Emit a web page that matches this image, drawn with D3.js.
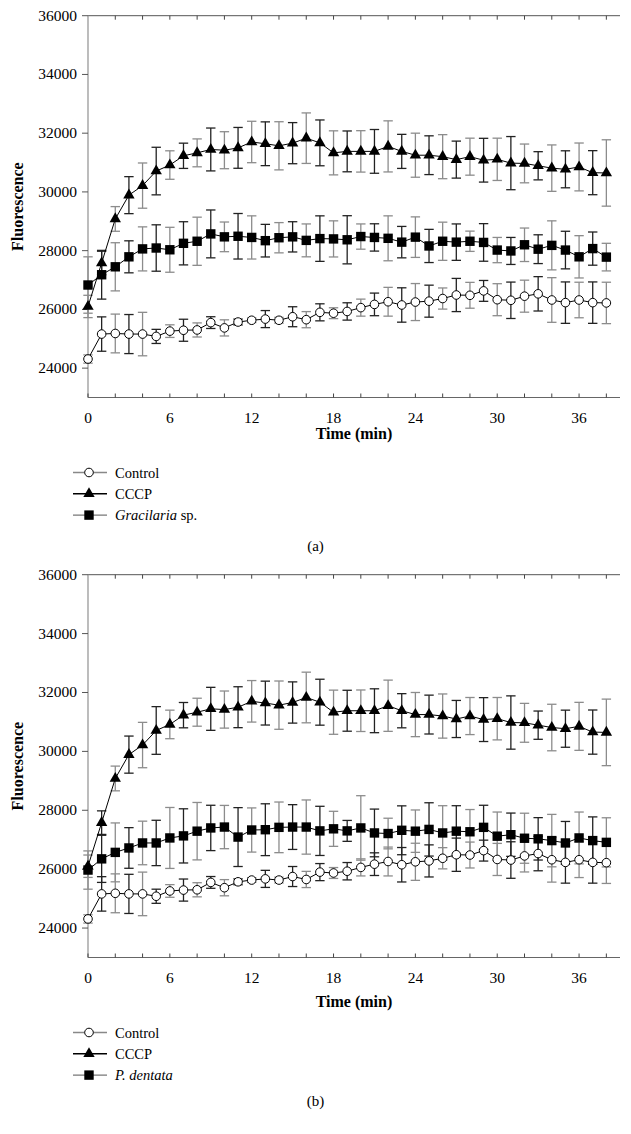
<!DOCTYPE html>
<html>
<head>
<meta charset="utf-8">
<script src="https://cdn.jsdelivr.net/npm/d3@7"></script>
<style>
  body { margin: 0; background: #fff; }
  text { font-family: "Liberation Serif", "DejaVu Serif", serif; }
</style>
</head>
<body>
<svg id="chart" width="631" height="1134"></svg>
<script>
const time = [0,1,2,3,4,5,6,7,8,9,10,11,12,13,14,15,16,17,18,19,20,21,22,23,24,25,26,27,28,29,30,31,32,33,34,35,36,37,38];
const xTicks = [0,6,12,18,24,30,36];
const yTicks = [24000,26000,28000,30000,32000,34000,36000];

const controlMean = [24310,25160,25180,25160,25160,25080,25260,25290,25300,25550,25370,25570,25630,25670,25630,25750,25650,25900,25870,25930,26060,26170,26260,26150,26250,26280,26370,26490,26480,26630,26330,26310,26450,26530,26320,26230,26320,26230,26220];
const controlErr = [140,585,660,665,740,240,215,375,240,200,275,100,80,290,100,340,275,290,185,295,290,385,490,585,630,545,360,565,440,355,545,620,545,585,760,705,605,705,705];

const cccpMean = [26100,27580,29080,29890,30215,30710,30915,31230,31330,31445,31420,31500,31700,31640,31570,31660,31830,31670,31330,31380,31380,31380,31550,31380,31250,31250,31200,31100,31200,31080,31110,30980,30970,30890,30810,30770,30850,30655,30645];
const cccpErr = [380,400,420,630,770,810,485,430,475,730,630,695,705,745,820,700,860,780,750,695,705,745,870,580,750,660,750,630,630,745,720,905,660,480,790,630,815,750,1130];

const gracilariaMean = [26830,27180,27450,27790,28060,28090,28030,28250,28320,28570,28470,28490,28450,28340,28440,28470,28350,28410,28400,28370,28480,28450,28420,28290,28460,28160,28320,28290,28320,28280,28020,27990,28200,28050,28180,28020,27790,28070,27780];
const gracilariaErr = [960,830,820,545,750,790,765,735,820,815,505,775,735,555,515,515,560,775,615,820,430,465,765,535,690,565,650,620,345,640,430,460,570,490,835,640,720,565,470];

const dentataMean = [25970,26350,26570,26720,26890,26890,27060,27130,27290,27400,27430,27090,27330,27340,27420,27430,27430,27300,27370,27300,27400,27230,27210,27320,27290,27350,27230,27290,27270,27420,27120,27170,27050,27030,26970,26890,27060,26970,26910];
const dentataErr = [650,800,1000,690,740,770,1035,920,975,770,735,1000,750,880,860,760,920,835,595,355,1095,810,520,830,720,905,925,865,755,750,820,735,850,720,890,730,880,805,835];

const svg = d3.select("#chart");

const left = 88, right = 620;
const x = d3.scaleLinear().domain([0, 39]).range([left, right]);

function seriesOf(mean, err) {
  return time.map((t, i) => ({ t: t, v: mean[i], e: err[i], i: i }));
}

function drawPanel(top, bottom, treatName, treatItalic, treatRest, treatMean, treatErr, timeLabelY, caption) {
  const g = svg.append("g");
  const y = d3.scaleLinear().domain([23000, 36000]).range([bottom, top]);

  // axes
  g.append("line")
    .attr("x1", left).attr("x2", right)
    .attr("y1", top).attr("y2", top)
    .attr("stroke", "#555").attr("stroke-width", 1);
  g.append("line")
    .attr("x1", left).attr("x2", right)
    .attr("y1", bottom).attr("y2", bottom)
    .attr("stroke", "#666").attr("stroke-width", 1);
  g.append("line")
    .attr("x1", left).attr("x2", left)
    .attr("y1", top).attr("y2", bottom)
    .attr("stroke", "#999").attr("stroke-width", 1.3);

  const minor = d3.range(0, 39, 2);
  g.selectAll(".tb").data(minor).enter().append("line")
    .attr("x1", d => x(d)).attr("x2", d => x(d))
    .attr("y1", bottom).attr("y2", bottom - 4)
    .attr("stroke", "#444");
  g.selectAll(".tt").data(minor.filter(d => d > 0)).enter().append("line")
    .attr("x1", d => x(d)).attr("x2", d => x(d))
    .attr("y1", top).attr("y2", top + 4)
    .attr("stroke", "#444");

  g.selectAll(".xl").data(xTicks).enter().append("text")
    .attr("x", d => x(d)).attr("y", bottom + 25)
    .attr("text-anchor", "middle")
    .style("font-size", "15.5px")
    .text(d => d);

  g.selectAll(".ty").data(yTicks).enter().append("line")
    .attr("x1", left - 6).attr("x2", left)
    .attr("y1", d => y(d)).attr("y2", d => y(d))
    .attr("stroke", "#555");
  g.selectAll(".yl").data(yTicks).enter().append("text")
    .attr("x", left - 11).attr("y", d => y(d) + 5)
    .attr("text-anchor", "end")
    .style("font-size", "15.5px")
    .text(d => d);

  g.append("text")
    .attr("transform", `translate(23,${(top + bottom) / 2}) rotate(-90)`)
    .attr("text-anchor", "middle")
    .style("font-size", "16px")
    .style("font-weight", "bold")
    .text("Fluorescence");

  g.append("text")
    .attr("x", (left + right) / 2).attr("y", timeLabelY)
    .attr("text-anchor", "middle")
    .style("font-size", "16px")
    .style("font-weight", "bold")
    .text("Time (min)");

  const series = [
    { name: "control", data: seriesOf(controlMean, controlErr), shape: "circle" },
    { name: "cccp", data: seriesOf(cccpMean, cccpErr), shape: "triangle" },
    { name: treatName, data: seriesOf(treatMean, treatErr), shape: "square" }
  ];

  // error bars
  series.forEach(s => {
    const eb = g.append("g");
    const bars = eb.selectAll("g").data(s.data).enter().append("g")
      .attr("stroke", d => d.i % 2 === 0 ? "#8c8c8c" : "#222")
      .attr("stroke-width", 1.3);
    bars.append("line")
      .attr("x1", d => x(d.t)).attr("x2", d => x(d.t))
      .attr("y1", d => y(d.v - d.e)).attr("y2", d => y(d.v + d.e));
    bars.append("line")
      .attr("x1", d => x(d.t) - 4.7).attr("x2", d => x(d.t) + 4.7)
      .attr("y1", d => y(d.v + d.e)).attr("y2", d => y(d.v + d.e));
    bars.append("line")
      .attr("x1", d => x(d.t) - 4.7).attr("x2", d => x(d.t) + 4.7)
      .attr("y1", d => y(d.v - d.e)).attr("y2", d => y(d.v - d.e));
  });

  const line = d3.line().x(d => x(d.t)).y(d => y(d.v));
  series.forEach(s => {
    g.append("path")
      .datum(s.data)
      .attr("d", line)
      .attr("fill", "none")
      .attr("stroke", "#000")
      .attr("stroke-width", 1);
  });

  function marker(sel, shape) {
    if (shape === "circle") {
      sel.append("circle").attr("r", 4.3)
        .attr("fill", "#fff").attr("stroke", "#000").attr("stroke-width", 1);
    } else if (shape === "square") {
      sel.append("rect").attr("x", -4.7).attr("y", -4.7)
        .attr("width", 9.4).attr("height", 9.4).attr("fill", "#000");
    } else {
      sel.append("path").attr("d", d3.symbol(d3.symbolTriangle, 56)())
        .attr("fill", "#000");
    }
  }

  series.forEach(s => {
    const m = g.append("g").selectAll("g").data(s.data).enter().append("g")
      .attr("transform", d => `translate(${x(d.t)},${y(d.v)})`);
    marker(m, s.shape);
  });

  // legend
  const legendY = bottom + 75;
  const legendItems = [
    { label: "Control", shape: "circle", color: "#888" },
    { label: "CCCP", shape: "triangle", color: "#000" },
    { label: treatItalic, rest: treatRest, shape: "square", color: "#777" }
  ];
  const lg = g.append("g").attr("transform", `translate(0,${legendY})`);
  const items = lg.selectAll("g").data(legendItems).enter().append("g")
    .attr("transform", (d, i) => `translate(0,${i * 21.3})`);
  items.append("line")
    .attr("x1", 73).attr("x2", 107).attr("y1", 0).attr("y2", 0)
    .attr("stroke", d => d.color).attr("stroke-width", 1.4);
  items.each(function (d) {
    const it = d3.select(this).append("g").attr("transform", "translate(89,0)");
    marker(it, d.shape);
  });
  const txt = items.append("text")
    .attr("x", 115).attr("y", 5)
    .style("font-size", "14.5px");
  txt.each(function (d) {
    const t = d3.select(this);
    if (d.shape === "square") {
      t.append("tspan").style("font-style", "italic").text(d.label);
      if (d.rest) t.append("tspan").text(d.rest);
    } else {
      t.text(d.label);
    }
  });

  g.append("text")
    .attr("x", 315.5).attr("y", caption.y)
    .attr("text-anchor", "middle")
    .style("font-size", "15px")
    .text(caption.text);
}

drawPanel(15.7, 397.5, "gracilaria", "Gracilaria", " sp.", gracilariaMean, gracilariaErr, 439, { text: "(a)", y: 551 });
drawPanel(574.7, 957.5, "dentata", "P. dentata", "", dentataMean, dentataErr, 1007, { text: "(b)", y: 1106 });
</script>
</body>
</html>
